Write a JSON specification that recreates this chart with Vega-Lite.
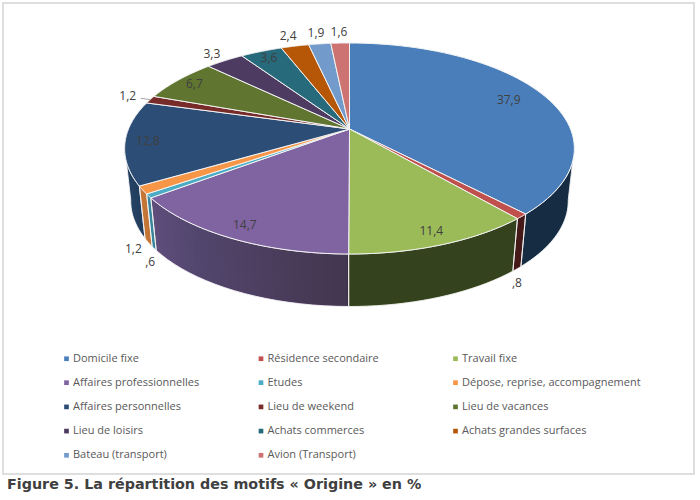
{
"$schema":"https://vega.github.io/schema/vega-lite/v6.json",
"width":691,"height":471,
"autosize":{"type":"none"},
"padding":{"left":3,"top":3,"right":6,"bottom":26},
"background":"white",
"view":{"stroke":"#dedede","strokeWidth":2},
"title":{"text":"Figure 5. La répartition des motifs « Origine » en %","orient":"bottom","anchor":"start","frame":"group","font":"DejaVu Sans","fontSize":14.3,"fontWeight":"bold","color":"#404040","dx":4,"offset":4},
"data":{"values":[
{"rang":1,"motif":"Domicile fixe","part":37.9},
{"rang":2,"motif":"Résidence secondaire","part":0.8},
{"rang":3,"motif":"Travail fixe","part":11.4},
{"rang":4,"motif":"Affaires professionnelles","part":14.7},
{"rang":5,"motif":"Etudes","part":0.6},
{"rang":6,"motif":"Dépose, reprise, accompagnement","part":1.2},
{"rang":7,"motif":"Affaires personnelles","part":12.8},
{"rang":8,"motif":"Lieu de weekend","part":1.2},
{"rang":9,"motif":"Lieu de vacances","part":6.7},
{"rang":10,"motif":"Lieu de loisirs","part":3.3},
{"rang":11,"motif":"Achats commerces","part":3.6},
{"rang":12,"motif":"Achats grandes surfaces","part":2.4},
{"rang":13,"motif":"Bateau (transport)","part":1.9},
{"rang":14,"motif":"Avion (Transport)","part":1.6}
]},
"transform":[
{"window":[{"op":"sum","field":"part","as":"cum"}],"sort":[{"field":"rang"}],"frame":[null,0]},
{"joinaggregate":[{"op":"sum","field":"part","as":"total"}]},
{"calculate":"(datum.cum-datum.part)/datum.total*2*PI","as":"a0"},
{"calculate":"datum.cum/datum.total*2*PI","as":"a1"},
{"calculate":"max(datum.a0,100*PI/180)","as":"w0"},
{"calculate":"min(datum.a1,260*PI/180)","as":"w1"}
],
"encoding":{
"x":{"field":"px","type":"quantitative","scale":{"domain":[3,694],"zero":false,"nice":false},"axis":null},
"y":{"field":"py","type":"quantitative","scale":{"domain":[474,3],"zero":false,"nice":false},"axis":null}
},
"layer":[
{
"transform":[
{"filter":"datum.w1>datum.w0"},
{"calculate":"[0,1,2,3,4,5,6,7,8,9,10,11,12,13,14,15,16,17,18,19,20,21,22,23,24,25,26,27,28,29,30,31,32,33,34,35,36,37,38,39,40,41]","as":"p"},
{"flatten":["p"]},
{"calculate":"datum.p<=20?datum.w0+(datum.w1-datum.w0)*datum.p/20:datum.w1-(datum.w1-datum.w0)*(datum.p-21)/20","as":"ang"},
{"calculate":"1+0.1848*cos(datum.ang)","as":"den"},
{"calculate":"datum.p<=20?349.5+221*sin(datum.ang)/datum.den:349.5+215*sin(datum.ang)/datum.den","as":"px"},
{"calculate":"(datum.p<=20?148.5:201)+(-105.5*cos(datum.ang)-19.5)/datum.den","as":"py"}
],
"mark":{"type":"line","filled":true,"strokeWidth":0,"interpolate":"linear"},
"encoding":{
"color":{"field":"motif","type":"nominal",
"scale":{"domain":["Domicile fixe","Résidence secondaire","Travail fixe","Affaires professionnelles","Etudes","Dépose, reprise, accompagnement","Affaires personnelles","Lieu de weekend","Lieu de vacances","Lieu de loisirs","Achats commerces","Achats grandes surfaces","Bateau (transport)","Avion (Transport)"],
"range":["#4a7ebb","#c0504d","#9bbb59","#8064a2","#4bacc6","#f79646","#2c4d75","#772c2a","#5f7530","#4d3b62","#276a7c","#b65708","#729aca","#cd7371"]},
"legend":{"title":null,"orient":"none","legendX":58,"legendY":350,"direction":"horizontal","columns":3,"gridAlign":"all","columnPadding":3.5,"rowPadding":12.2,"symbolType":"square","symbolSize":22,"symbolStrokeWidth":0,"labelFont":"Open Sans","labelFontSize":11,"labelColor":"#595959","labelLimit":300,"labelOffset":1}},
"order":{"field":"p","type":"quantitative"}
}
},
{
"transform":[
{"filter":"datum.rang==1"},
{"calculate":"[0,1,2,3,4,5,6,7,8,9,10,11,12,13,14,15,16,17,18,19,20,21,22,23,24,25,26,27,28,29,30]","as":"q"},
{"flatten":["q"]},
{"calculate":"[0,1,2,3,4,5,6,7,8,9,10,11,12,13,14,15,16,17,18,19,20,21,22,23,24,25,26,27,28,29,30,31,32,33,34,35,36,37,38,39,40,41]","as":"p"},
{"flatten":["p"]},
{"calculate":"(datum.q==0?260:datum.q==30?180.4:245-(datum.q-1)*64/28)*PI/180","as":"fin"},
{"calculate":"100*PI/180","as":"deb"},
{"calculate":"datum.q==0?0.16:datum.q==30?0.33:0.0115","as":"ombre"},
{"calculate":"datum.q+1000","as":"nappe"},
{"calculate":"datum.p<=20?datum.deb+(datum.fin-datum.deb)*datum.p/20:datum.fin-(datum.fin-datum.deb)*(datum.p-21)/20","as":"ang"},
{"calculate":"1+0.1848*cos(datum.ang)","as":"den"},
{"calculate":"datum.p<=20?349.5+221*sin(datum.ang)/datum.den:349.5+215*sin(datum.ang)/datum.den","as":"px"},
{"calculate":"(datum.p<=20?148.5:201)+(-105.5*cos(datum.ang)-19.5)/datum.den","as":"py"}
],
"mark":{"type":"line","filled":true,"strokeWidth":0,"fill":"#000000","interpolate":"linear"},
"encoding":{
"detail":{"field":"nappe","type":"nominal"},
"opacity":{"field":"ombre","type":"quantitative","scale":null,"legend":null},
"order":{"field":"p","type":"quantitative"}
}
},
{
"transform":[
{"filter":"datum.w1>datum.w0"},
{"calculate":"[0,1,2,3,4,5,6,7,8,9,10,11,12,13,14,15,16,17,18,19,20,21,22,23,24,25,26,27,28,29,30,31,32,33,34,35,36,37,38,39,40,41,42]","as":"p"},
{"flatten":["p"]},
{"calculate":"datum.p<=20?datum.w0+(datum.w1-datum.w0)*datum.p/20:datum.p<=41?datum.w1-(datum.w1-datum.w0)*(datum.p-21)/20:datum.w0","as":"ang"},
{"calculate":"1+0.1848*cos(datum.ang)","as":"den"},
{"calculate":"(datum.p<=20||datum.p==42)?349.5+221*sin(datum.ang)/datum.den:349.5+215*sin(datum.ang)/datum.den","as":"px"},
{"calculate":"((datum.p<=20||datum.p==42)?148.5:201)+(-105.5*cos(datum.ang)-19.5)/datum.den","as":"py"}
],
"mark":{"type":"line","stroke":"#f4f4f4","strokeWidth":0.9,"interpolate":"linear"},
"encoding":{
"detail":{"field":"motif","type":"nominal"},
"order":{"field":"p","type":"quantitative"}
}
},
{
"transform":[
{"calculate":"[0,1,2,3,4,5,6,7,8,9,10,11,12,13,14,15,16,17,18,19,20,21,22,23,24,25,26,27,28,29,30,31,32,33,34,35,36,37,38,39,40,41,42,43,44,45,46,47,48,49,50,51,52,53,54,55,56,57,58,59,60,61,62]","as":"p"},
{"flatten":["p"]},
{"calculate":"datum.a0+(datum.a1-datum.a0)*(datum.p-1)/60","as":"ang"},
{"calculate":"(datum.p==0||datum.p==62)?0:1","as":"r"},
{"calculate":"1+0.1848*datum.r*cos(datum.ang)","as":"den"},
{"calculate":"349.5+221*datum.r*sin(datum.ang)/datum.den","as":"px"},
{"calculate":"148.5+(-105.5*datum.r*cos(datum.ang)-19.5)/datum.den","as":"py"}
],
"mark":{"type":"line","filled":true,"stroke":"#f4f4f4","strokeWidth":1,"interpolate":"linear"},
"encoding":{
"color":{"field":"motif","type":"nominal"},
"order":{"field":"p","type":"quantitative"}
}
},
{
"transform":[
{"filter":"datum.rang==8"},
{"calculate":"[1,1.05]","as":"r"},
{"flatten":["r"]},
{"calculate":"(datum.a0+datum.a1)/2","as":"ang"},
{"calculate":"1+0.1848*datum.r*cos(datum.ang)","as":"den"},
{"calculate":"349.5+221*datum.r*sin(datum.ang)/datum.den","as":"px"},
{"calculate":"148.5+(-105.5*datum.r*cos(datum.ang)-19.5)/datum.den","as":"py"}
],
"mark":{"type":"line","stroke":"#a6a6a6","strokeWidth":1},
"encoding":{"order":{"field":"r","type":"quantitative"}}
},
{
"transform":[
{"calculate":"(datum.a0+datum.a1)/2","as":"ang"},
{"calculate":"datum.rang==6||datum.rang==5||datum.rang==2","as":"avant"},
{"calculate":"datum.avant?1:datum.part>=3.5?(datum.part>30?0.82:0.9):(datum.rang==8||datum.rang==10)?1.12:1.15","as":"r"},
{"calculate":"1+0.1848*datum.r*cos(datum.ang)","as":"den"},
{"calculate":"349.5+(datum.avant?215:221)*datum.r*sin(datum.ang)/datum.den+(datum.rang==6?-15:datum.rang==5?-4:0)","as":"px"},
{"calculate":"(datum.avant?201+14:148.5)+(-105.5*datum.r*cos(datum.ang)-19.5)/datum.den+(datum.rang==6?-8:0)","as":"py"},
{"calculate":"replace(replace(toString(datum.part),'.',','),/^0/,'')","as":"etiquette"}
],
"mark":{"type":"text","font":"Open Sans","fontSize":12,"color":"#404040","align":"center","baseline":"middle"},
"encoding":{"text":{"field":"etiquette","type":"nominal"}}
}
]
}
